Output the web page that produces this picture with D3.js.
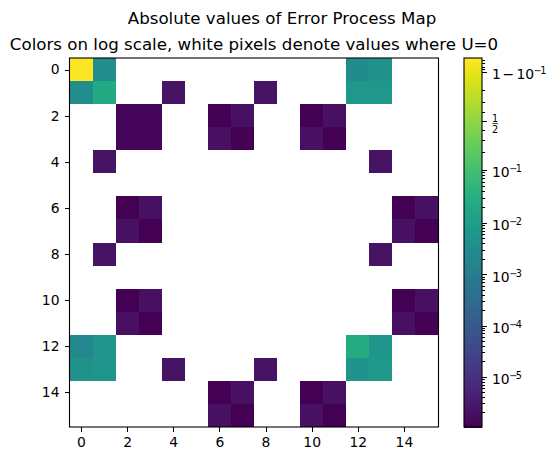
<!DOCTYPE html>
<html>
<head>
<meta charset="utf-8">
<script src="https://cdn.jsdelivr.net/npm/d3@7"></script>
<style>
  body { margin: 0; background: #fff; }
  text { font-family: "DejaVu Sans", sans-serif; fill: #000; }
  .domain { display: none; }
  .tick line { stroke: #000; stroke-width: 1; shape-rendering: crispEdges; }
  .tick text { font-size: 13.9px; font-family: "DejaVu Sans", sans-serif; fill: #000; }
</style>
</head>
<body>
<div id="chart"></div>
<script>
const suptitle = "Absolute values of Error Process Map";
const subtitle = "Colors on log scale, white pixels denote values where U=0";

// null = U is zero there, stays white
const _ = null;
const row0 = [0.944, 0.0035, _, _, _, _, _, _, _, _, _, _, 0.0032, 0.0042, _, _];
const row1 = [0.0036, 0.024, _, _, 2.4e-6, _, _, _, 2.4e-6, _, _, _, 0.0068, 0.0068, _, _];
const row2 = [_, _, 1.3e-6, 1.3e-6, _, _, 1.1e-6, 2.0e-6, _, _, 1.1e-6, 2.0e-6, _, _, _, _];
const row3 = [_, _, 1.3e-6, 1.3e-6, _, _, 2.0e-6, 1.1e-6, _, _, 2.0e-6, 1.1e-6, _, _, _, _];
const row4 = [_, 2.4e-6, _, _, _, _, _, _, _, _, _, _, _, 2.4e-6, _, _];
const row5 = [_, _, _, _, _, _, _, _, _, _, _, _, _, _, _, _];
const row6 = [_, _, 1.1e-6, 2.0e-6, _, _, _, _, _, _, _, _, _, _, 1.1e-6, 2.0e-6];
const row7 = [_, _, 2.0e-6, 1.1e-6, _, _, _, _, _, _, _, _, _, _, 2.0e-6, 1.1e-6];
const row8 = [_, 2.4e-6, _, _, _, _, _, _, _, _, _, _, _, 2.4e-6, _, _];
const row9 = [_, _, _, _, _, _, _, _, _, _, _, _, _, _, _, _];
const row10 = [_, _, 1.1e-6, 2.0e-6, _, _, _, _, _, _, _, _, _, _, 1.1e-6, 2.0e-6];
const row11 = [_, _, 2.0e-6, 1.1e-6, _, _, _, _, _, _, _, _, _, _, 2.0e-6, 1.1e-6];
const row12 = [0.0025, 0.0058, _, _, _, _, _, _, _, _, _, _, 0.026, 0.0058, _, _];
const row13 = [0.0042, 0.0058, _, _, 2.4e-6, _, _, _, 2.4e-6, _, _, _, 0.0052, 0.0078, _, _];
const row14 = [_, _, _, _, _, _, 1.1e-6, 2.0e-6, _, _, 1.1e-6, 2.0e-6, _, _, _, _];
const row15 = [_, _, _, _, _, _, 2.0e-6, 1.1e-6, _, _, 2.0e-6, 1.1e-6, _, _, _, _];
const errorRows = [row0, row1, row2, row3, row4, row5, row6, row7, row8, row9, row10, row11, row12, row13, row14, row15];

const axisTicks = [0, 2, 4, 6, 8, 10, 12, 14];
const colorMin = 1.04e-6;
const colorMax = 0.944;
const majorTicks = [0.9, 0.5, 0.1, 1e-2, 1e-3, 1e-4, 1e-5];
const minorTicks = [
  0.94, 0.93, 0.92, 0.91, 0.8, 0.7, 0.6, 0.4, 0.3, 0.2,
  0.09, 0.08, 0.07, 0.06, 0.05, 0.04, 0.03, 0.02,
  9e-3, 8e-3, 7e-3, 6e-3, 5e-3, 4e-3, 3e-3, 2e-3,
  9e-4, 8e-4, 7e-4, 6e-4, 5e-4, 4e-4, 3e-4, 2e-4,
  9e-5, 8e-5, 7e-5, 6e-5, 5e-5, 4e-5, 3e-5, 2e-5,
  9e-6, 8e-6, 7e-6, 6e-6, 5e-6, 4e-6, 3e-6, 2e-6
];

const logit = (p) => Math.log10(p / (1 - p));

const svg = d3.select("#chart").append("svg")
  .attr("width", 560)
  .attr("height", 461)
  .style("display", "block");

const plot = { left: 69.5, right: 438.5, top: 58, bottom: 427 };
const bar = { left: 464, right: 482 };

const xScale = d3.scaleLinear().domain([-0.5, 15.5]).range([plot.left, plot.right]);
const yScale = d3.scaleLinear().domain([-0.5, 15.5]).range([plot.top, plot.bottom]);
const cbScale = d3.scaleLinear().domain([logit(colorMin), logit(colorMax)]).range([plot.bottom, plot.top]);
const colorT = d3.scaleLinear().domain(cbScale.domain()).range([0, 1]).clamp(true);
const cellColor = (v) => d3.interpolateViridis(colorT(logit(v)));

svg.append("text").attr("x", 282).attr("y", 23.8)
  .attr("text-anchor", "middle").style("font-size", "16.67px").text(suptitle);
svg.append("text").attr("x", 254).attr("y", 49.8)
  .attr("text-anchor", "middle").style("font-size", "16.67px").text(subtitle);

// cells
const cells = errorRows.flatMap((row, r) => row.map((v, c) => ({ r, c, v }))).filter(d => d.v !== null);
svg.append("g").selectAll("rect").data(cells).enter()
  .append("rect")
  .attr("x", d => xScale(d.c - 0.5))
  .attr("y", d => yScale(d.r - 0.5))
  .attr("width", d => xScale(d.c + 0.5) - xScale(d.c - 0.5))
  .attr("height", d => yScale(d.r + 0.5) - yScale(d.r - 0.5))
  .attr("fill", d => cellColor(d.v))
  .attr("shape-rendering", "crispEdges");

svg.append("g")
  .attr("transform", `translate(0,${plot.bottom})`)
  .call(d3.axisBottom(xScale).tickValues(axisTicks).tickFormat(d3.format("d")).tickSize(5).tickPadding(5));
svg.append("g")
  .attr("transform", `translate(${plot.left},0)`)
  .call(d3.axisLeft(yScale).tickValues(axisTicks).tickFormat(d3.format("d")).tickSize(5).tickPadding(5));

svg.append("rect")
  .attr("x", plot.left).attr("y", plot.top)
  .attr("width", plot.right - plot.left).attr("height", plot.bottom - plot.top)
  .attr("fill", "none").attr("stroke", "#000").attr("stroke-width", 1.1);

// colorbar, same logit steps as the cells
const steps = d3.range(256);
const stepH = (plot.bottom - plot.top) / 256;
svg.append("g").selectAll("rect").data(steps).enter()
  .append("rect")
  .attr("x", bar.left)
  .attr("y", d => plot.bottom - (d + 1) * stepH)
  .attr("width", bar.right - bar.left)
  .attr("height", stepH + 1)
  .attr("fill", d => d3.interpolateViridis(d / 255))
  .attr("shape-rendering", "crispEdges");

svg.append("g")
  .attr("transform", `translate(${bar.right},0)`)
  .call(d3.axisRight(cbScale).tickValues(minorTicks.map(logit)).tickFormat("").tickSize(3));
svg.append("g")
  .attr("transform", `translate(${bar.right},0)`)
  .call(d3.axisRight(cbScale).tickValues(majorTicks.map(logit)).tickFormat("").tickSize(5));

svg.append("rect")
  .attr("x", bar.left).attr("y", plot.top)
  .attr("width", bar.right - bar.left).attr("height", plot.bottom - plot.top)
  .attr("fill", "none").attr("stroke", "#000").attr("stroke-width", 1.1);

const labelX = bar.right + 10;
const mathLabel = (value, exponent, withPrefix) => {
  const t = svg.append("text")
    .attr("x", labelX)
    .attr("y", cbScale(logit(value)) + 7.3)
    .style("font-size", "13.9px");
  if (withPrefix) {
    t.append("tspan").text("1");
    t.append("tspan").attr("x", labelX + 10.4).text("\u2212");
    t.append("tspan").attr("x", labelX + 24.4).text("10");
  } else {
    t.append("tspan").text("10");
  }
  t.append("tspan").attr("dy", -5).attr("dx", -0.5)
    .style("font-size", "9.7px").style("letter-spacing", "-1.5px")
    .text("\u2212" + exponent);
};

mathLabel(0.9, 1, true);
mathLabel(0.1, 1, false);
mathLabel(1e-2, 2, false);
mathLabel(1e-3, 3, false);
mathLabel(1e-4, 4, false);
mathLabel(1e-5, 5, false);

// the 1/2 tick is a stacked fraction
const halfY = cbScale(logit(0.5));
svg.append("text").attr("x", labelX + 3.2).attr("y", halfY + 0.8)
  .attr("text-anchor", "middle").style("font-size", "9.7px").text("1");
svg.append("line")
  .attr("x1", labelX + 0.4).attr("x2", labelX + 6)
  .attr("y1", halfY + 2.8).attr("y2", halfY + 2.8)
  .attr("stroke", "#000").attr("stroke-width", 0.8);
svg.append("text").attr("x", labelX + 3.2).attr("y", halfY + 12)
  .attr("text-anchor", "middle").style("font-size", "9.7px").text("2");
</script>
</body>
</html>
